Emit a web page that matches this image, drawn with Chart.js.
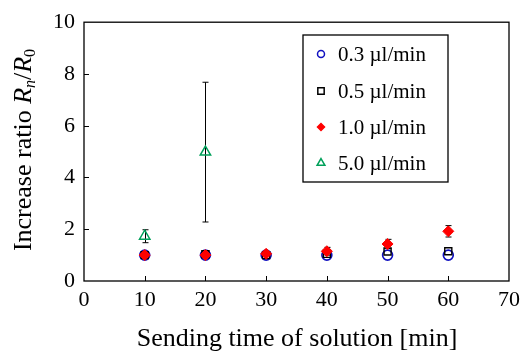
<!DOCTYPE html>
<html>
<head>
<meta charset="utf-8">
<script src="https://cdn.jsdelivr.net/npm/chart.js@4.4.1/dist/chart.umd.min.js"></script>
<style>
  html, body { margin: 0; padding: 0; background: #fff; }
  #wrap { width: 526px; height: 353px; }
</style>
</head>
<body>
<div id="wrap"><canvas id="ratioChart" width="526" height="353"></canvas></div>
<script>
// Sending time (min) and measured increase ratio Rn/R0 per flow rate
const times = [10, 20, 30, 40, 50, 60];
const flow03 = [1.0, 1.0, 1.0, 1.0, 1.0, 1.0];
const flow05 = [1.0, 1.03, 1.0, 1.05, 1.14, 1.15];
const flow10 = [1.0, 1.0, 1.05, 1.15, 1.43, 1.92];
const flow10Err = [0, 0, 0.05, 0.15, 0.18, 0.22];
const flow50Times = [10, 20];
const flow50 = [1.73, 4.98];
const flow50Err = [0.25, 2.7];
const seriesLabels = ['0.3 µl/min', '0.5 µl/min', '1.0 µl/min', '5.0 µl/min'];
const xTicks = [0, 10, 20, 30, 40, 50, 60, 70];
const yTicks = [0, 2, 4, 6, 8, 10];

const SERIF = '"Liberation Serif", "Times New Roman", serif';

function toPoints(xs, ys, errs) {
    return xs.map((x, i) => ({ x: x, y: ys[i], err: errs ? errs[i] : 0 }));
}

// frame, inward ticks, error bars, titles and boxed legend
const decorations = {
    id: 'decorations',
    beforeDatasetsDraw(chart) {
        const ctx = chart.ctx;
        const xs = chart.scales.x, ys = chart.scales.y;
        ctx.save();
        ctx.strokeStyle = '#000';
        ctx.lineWidth = 1;
        chart.data.datasets.forEach(ds => {
            ds.data.forEach(p => {
                if (!p.err) return;
                const px = Math.round(xs.getPixelForValue(p.x)) + 0.5;
                const top = ys.getPixelForValue(p.y + p.err);
                const bot = ys.getPixelForValue(p.y - p.err);
                ctx.beginPath();
                ctx.moveTo(px, top); ctx.lineTo(px, bot);
                ctx.moveTo(px - 3, top); ctx.lineTo(px + 3, top);
                ctx.moveTo(px - 3, bot); ctx.lineTo(px + 3, bot);
                ctx.stroke();
            });
        });
        ctx.restore();
    },
    afterDraw(chart) {
        const ctx = chart.ctx;
        const a = chart.chartArea;
        const xs = chart.scales.x, ys = chart.scales.y;
        ctx.save();
        ctx.strokeStyle = '#000';
        ctx.lineWidth = 1.3;
        ctx.strokeRect(a.left, a.top, a.right - a.left, a.bottom - a.top);

        ctx.lineWidth = 1;
        ctx.beginPath();
        xTicks.slice(1, -1).forEach(v => {
            const px = Math.round(xs.getPixelForValue(v)) + 0.5;
            ctx.moveTo(px, a.bottom); ctx.lineTo(px, a.bottom - 5);
        });
        yTicks.slice(1, -1).forEach(v => {
            const py = Math.round(ys.getPixelForValue(v)) + 0.5;
            ctx.moveTo(a.left, py); ctx.lineTo(a.left + 5, py);
        });
        ctx.stroke();

        // x axis title
        ctx.fillStyle = '#000';
        ctx.font = '26px ' + SERIF;
        ctx.textAlign = 'center';
        ctx.textBaseline = 'alphabetic';
        ctx.fillText('Sending time of solution [min]', 297, 346);

        // y axis title with italic R and subscripts
        const parts = [
            { t: 'Increase ratio ', f: '26px ' + SERIF, dy: 0 },
            { t: 'R', f: 'italic 26px ' + SERIF, dy: 0 },
            { t: 'n', f: 'italic 16px ' + SERIF, dy: 4 },
            { t: '/', f: '26px ' + SERIF, dy: 0 },
            { t: 'R', f: 'italic 26px ' + SERIF, dy: 0 },
            { t: '0', f: '16px ' + SERIF, dy: 4 }
        ];
        let total = 0;
        parts.forEach(p => { ctx.font = p.f; p.w = ctx.measureText(p.t).width; total += p.w; });
        ctx.translate(31, 150);
        ctx.rotate(-Math.PI / 2);
        let cx = -total / 2;
        parts.forEach(p => {
            ctx.font = p.f;
            ctx.textAlign = 'left';
            ctx.fillText(p.t, cx, p.dy);
            cx += p.w;
        });
        ctx.restore();

        // legend box
        ctx.save();
        ctx.strokeStyle = '#000';
        ctx.lineWidth = 1.3;
        ctx.strokeRect(303, 35, 145, 147);
        const rows = [54, 91, 127, 163];
        const byLegend = chart.data.datasets.slice().sort((p, q) => p.legendIndex - q.legendIndex);
        byLegend.forEach((ds, i) => {
            ctx.strokeStyle = ds.borderColor;
            ctx.fillStyle = ds.backgroundColor;
            ctx.lineWidth = 1.5;
            Chart.helpers.drawPoint(ctx, {
                pointStyle: ds.pointStyle,
                radius: ds.legendRadius,
                borderWidth: 1.5,
                rotation: 0
            }, 321, rows[i]);
            ctx.fillStyle = '#000';
            ctx.font = '21px ' + SERIF;
            ctx.textAlign = 'left';
            ctx.textBaseline = 'middle';
            ctx.fillText(ds.label, 338, rows[i] + 1);
        });
        ctx.restore();
    }
};

const chart = new Chart(document.getElementById('ratioChart'), {
    type: 'scatter',
    data: {
        datasets: [
            {
                label: seriesLabels[0], legendIndex: 0, order: 3,
                data: toPoints(times, flow03),
                pointStyle: 'circle', pointRadius: 5, legendRadius: 3.5,
                borderColor: '#1010c0', backgroundColor: 'rgba(0,0,0,0)', borderWidth: 1.6
            },
            {
                label: seriesLabels[1], legendIndex: 1, order: 2,
                data: toPoints(times, flow05),
                pointStyle: 'rect', pointRadius: 5, legendRadius: 4.5,
                borderColor: '#000', backgroundColor: 'rgba(0,0,0,0)', borderWidth: 1.4
            },
            {
                label: seriesLabels[2], legendIndex: 2, order: 0,
                data: toPoints(times, flow10, flow10Err),
                pointStyle: 'rectRot', pointRadius: 5.5, legendRadius: 3.5,
                borderColor: '#ff0000', backgroundColor: '#ff0000', borderWidth: 1
            },
            {
                label: seriesLabels[3], legendIndex: 3, order: 1,
                data: toPoints(flow50Times, flow50, flow50Err),
                pointStyle: 'triangle', pointRadius: 6, legendRadius: 4.5,
                borderColor: '#00a05a', backgroundColor: 'rgba(0,0,0,0)', borderWidth: 1.5
            }
        ]
    },
    options: {
        responsive: false,
        animation: false,
        layout: { padding: { top: 18, right: 13, left: 0, bottom: 0 } },
        plugins: {
            legend: { display: false },
            tooltip: { enabled: false }
        },
        scales: {
            x: {
                type: 'linear', min: 0, max: 70,
                afterBuildTicks: s => { s.ticks = xTicks.map(v => ({ value: v })); },
                afterFit: s => { s.height = 72; },
                grid: { display: false, drawTicks: false },
                border: { display: false },
                ticks: { color: '#000', padding: 6, maxRotation: 0, font: { family: SERIF, size: 22 } }
            },
            y: {
                min: 0, max: 10,
                afterBuildTicks: s => { s.ticks = yTicks.map(v => ({ value: v })); },
                afterFit: s => { s.width = 84; },
                grid: { display: false, drawTicks: false },
                border: { display: false },
                ticks: { color: '#000', padding: 9, font: { family: SERIF, size: 22 } }
            }
        }
    },
    plugins: [decorations]
});
</script>
</body>
</html>
